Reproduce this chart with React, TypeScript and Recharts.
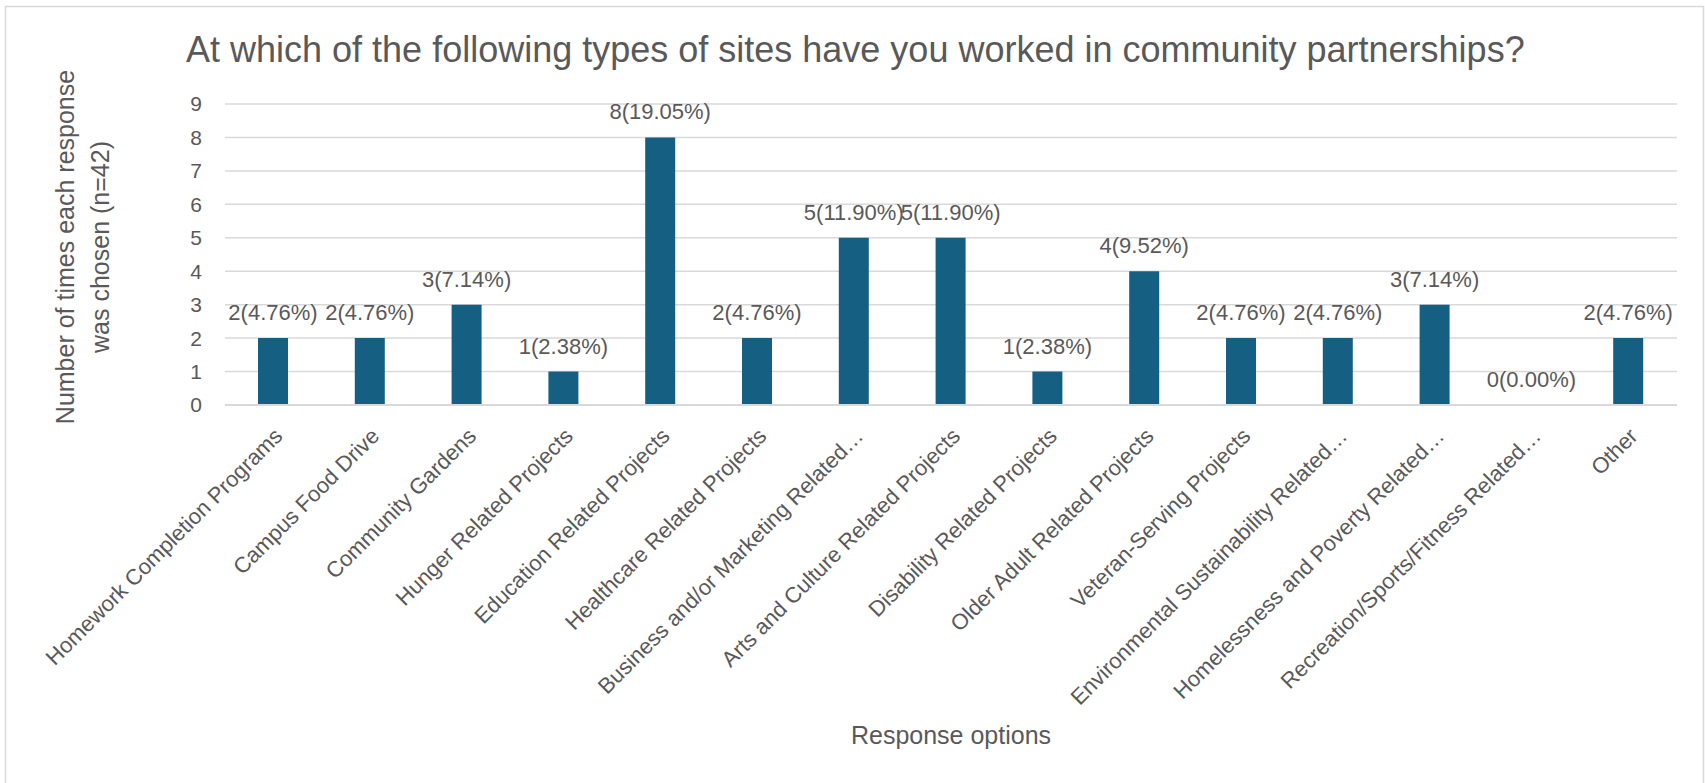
import React from "react";
import { BarChart, Bar, XAxis, YAxis, CartesianGrid, LabelList } from "recharts";

const categories: string[] = [
  "Homework Completion Programs",
  "Campus Food Drive",
  "Community Gardens",
  "Hunger Related Projects",
  "Education Related Projects",
  "Healthcare Related Projects",
  "Business and/or Marketing Related…",
  "Arts and Culture Related Projects",
  "Disability Related Projects",
  "Older Adult Related Projects",
  "Veteran-Serving Projects",
  "Environmental Sustainability Related…",
  "Homelessness and Poverty Related…",
  "Recreation/Sports/Fitness Related…",
  "Other",
];

const counts: number[] = [2, 2, 3, 1, 8, 2, 5, 5, 1, 4, 2, 2, 3, 0, 2];

const valueLabels: string[] = [
  "2(4.76%)",
  "2(4.76%)",
  "3(7.14%)",
  "1(2.38%)",
  "8(19.05%)",
  "2(4.76%)",
  "5(11.90%)",
  "5(11.90%)",
  "1(2.38%)",
  "4(9.52%)",
  "2(4.76%)",
  "2(4.76%)",
  "3(7.14%)",
  "0(0.00%)",
  "2(4.76%)",
];

const yTicks: number[] = [0, 1, 2, 3, 4, 5, 6, 7, 8, 9];

const titleText = "At which of the following types of sites have you worked in community partnerships?";
const yTitleLines: string[] = ["Number of times each response", "was chosen (n=42)"];
const xTitleText = "Response options";

const data = categories.map((name, i) => ({ name, count: counts[i], label: valueLabels[i] }));

const FONT = "'Liberation Sans', Arial, sans-serif";
const TEXT = "#595959";
const GRID = "#d9d9d9";
const BAR = "#156082";

const CategoryTick = (props: any) => {
  const { x, y, payload } = props;
  return (
    <g transform={`translate(${x + 5},${y + 27})`}>
      <text
        textAnchor="end"
        transform="rotate(-45)"
        dy="0.35em"
        fontSize={22}
        fill={TEXT}
        fontFamily={FONT}
      >
        {payload.value}
      </text>
    </g>
  );
};

export default function App() {
  return (
    <div style={{ position: "relative", width: 1705, height: 783, background: "#fff" }}>
      <style>{`body{margin:0;}`}</style>
      <BarChart
        width={1705}
        height={783}
        data={data}
        margin={{ top: 104, right: 28, left: 165, bottom: 78 }}
        barSize={30}
      >
        <CartesianGrid vertical={false} stroke={GRID} strokeWidth={1.5} />
        <XAxis
          dataKey="name"
          interval={0}
          tickLine={false}
          axisLine={{ stroke: GRID, strokeWidth: 2 }}
          tickSize={0}
          tickMargin={0}
          height={300}
          tick={<CategoryTick />}
        />
        <YAxis
          domain={[0, 9]}
          ticks={yTicks}
          interval={0}
          width={60}
          axisLine={false}
          tickLine={false}
          tickSize={0}
          tickMargin={23}
          tick={{ fill: TEXT, fontSize: 21, fontFamily: FONT }}
        />
        <Bar dataKey="count" fill={BAR} minPointSize={0.001} isAnimationActive={false}>
          <LabelList
            dataKey="label"
            position="top"
            offset={18}
            fill={TEXT}
            fontSize={22}
            fontFamily={FONT}
          />
        </Bar>
      </BarChart>
      <svg
        width={1705}
        height={783}
        style={{ position: "absolute", left: 0, top: 0, pointerEvents: "none" }}
      >
        <path d="M5.5 790 L5.5 6.5 L1703.5 6.5 L1703.5 790" fill="none" stroke={GRID} strokeWidth={1.5} />
        <text x={186} y={62} fontSize={36} fill={TEXT} fontFamily={FONT}>
          {titleText}
        </text>
        <g transform="translate(82.5,247) rotate(-90)">
          <text textAnchor="middle" x={0} y={-17.5} dy="0.35em" fontSize={25} fill={TEXT} fontFamily={FONT}>
            {yTitleLines[0]}
          </text>
          <text textAnchor="middle" x={0} y={17.5} dy="0.35em" fontSize={25} fill={TEXT} fontFamily={FONT}>
            {yTitleLines[1]}
          </text>
        </g>
        <text x={951} y={735} dy="0.35em" textAnchor="middle" fontSize={25} fill={TEXT} fontFamily={FONT}>
          {xTitleText}
        </text>
      </svg>
    </div>
  );
}
